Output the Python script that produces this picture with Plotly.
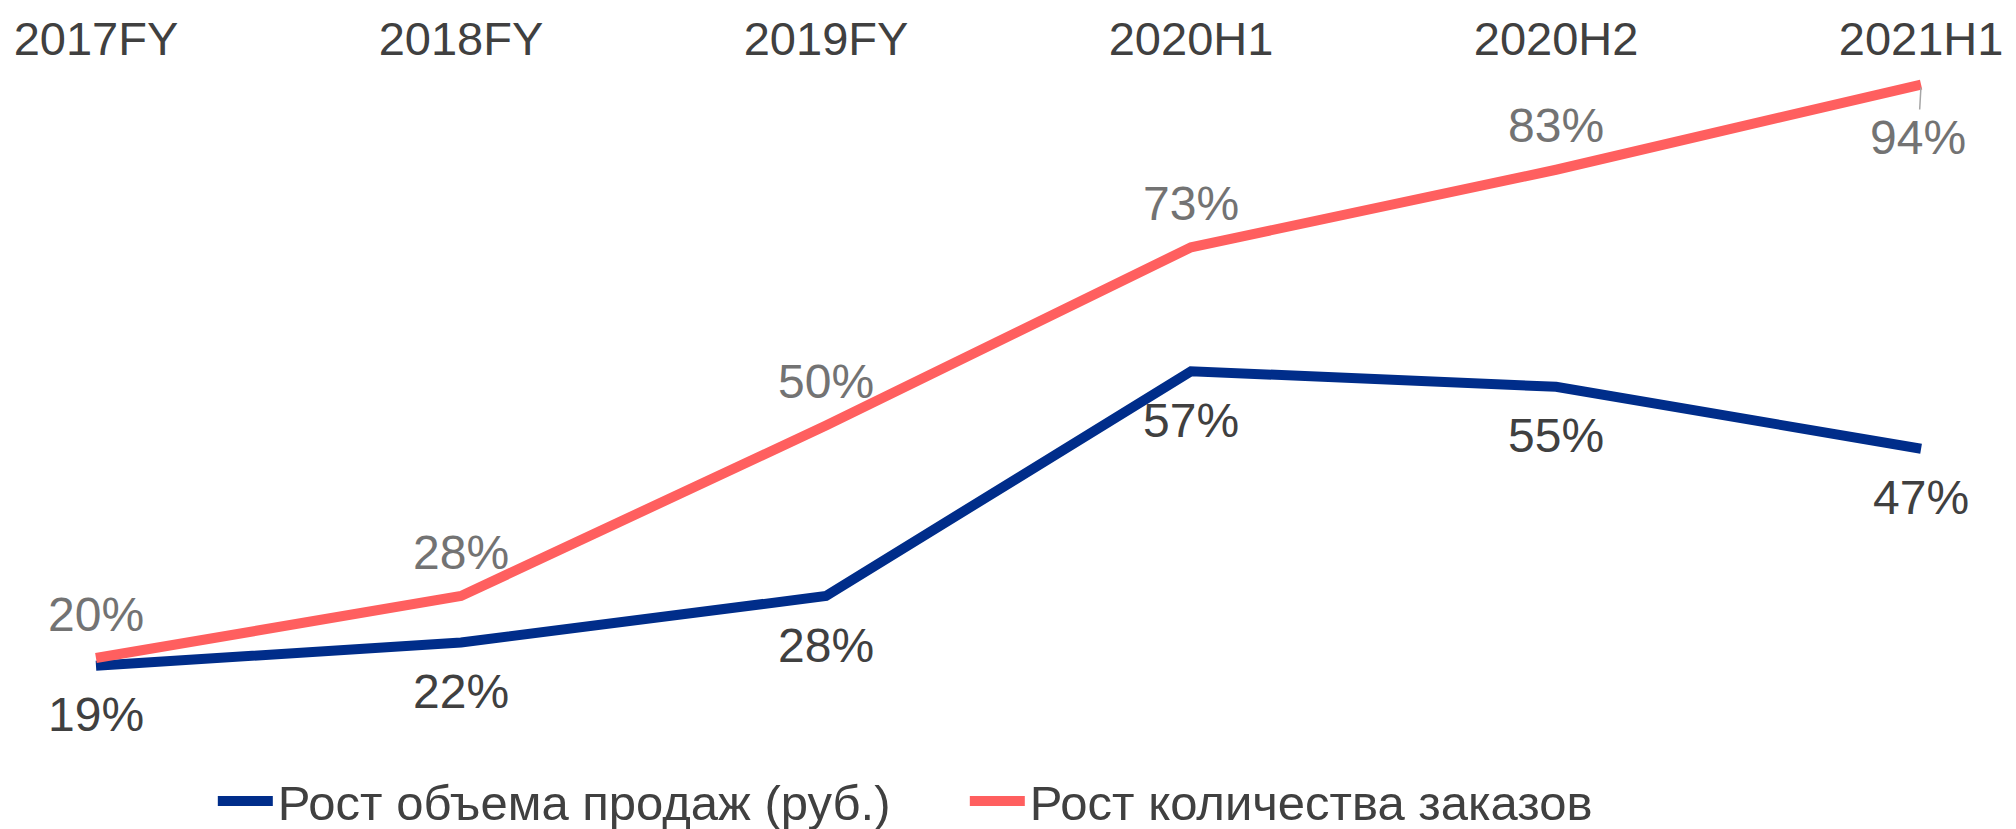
import plotly.graph_objects as go

periods = ['2017FY', '2018FY', '2019FY', '2020H1', '2020H2', '2021H1']
sales_growth = [19, 22, 28, 57, 55, 47]
orders_growth = [20, 28, 50, 73, 83, 94]

sales_name = 'Рост объема продаж (руб.)'
orders_name = 'Рост количества заказов'

BLUE = '#002D8A'
RED = '#FF5F5F'
FONT = 'Liberation Sans, Arial'

x = list(range(len(periods)))

fig = go.Figure()
fig.add_trace(go.Scatter(
    x=x, y=sales_growth, mode='lines', name=sales_name,
    line=dict(color=BLUE, width=10),
))
fig.add_trace(go.Scatter(
    x=x, y=orders_growth, mode='lines', name=orders_name,
    line=dict(color=RED, width=10),
))

# value labels: orders above the line, sales below
annotations = []
for i, v in enumerate(sales_growth):
    annotations.append(dict(
        x=i, y=v, text=f'{v}%', showarrow=False, yshift=-49,
        font=dict(family=FONT, size=48, color='#404040'),
    ))
for i, v in enumerate(orders_growth):
    if i == len(orders_growth) - 1:
        # last one sits under the point with a leader line
        annotations.append(dict(
            x=i, y=v, text=f'{v}%', showarrow=True, arrowhead=0,
            arrowwidth=1.5, arrowcolor='#A6A6A6', ax=-3, ay=53, standoff=3,
            font=dict(family=FONT, size=48, color='#737373'),
        ))
    else:
        annotations.append(dict(
            x=i, y=v, text=f'{v}%', showarrow=False, yshift=44,
            font=dict(family=FONT, size=48, color='#737373'),
        ))

# page body has an 8px margin, so the figure is a bit smaller than the window
fig.update_layout(
    width=2008, height=821,
    margin=dict(l=0, r=0, t=60, b=80, autoexpand=False),
    plot_bgcolor='white', paper_bgcolor='white',
    annotations=annotations,
    showlegend=True,
    legend=dict(
        orientation='h', x=0.102, xanchor='left', y=-0.0764, yanchor='middle',
        font=dict(family=FONT, size=49, color='#404040'),
        itemwidth=55, entrywidth=682, traceorder='normal',
    ),
)
fig.update_xaxes(
    side='top', tickmode='array', tickvals=x, ticktext=periods,
    range=[-0.241, 5.26], showgrid=False, zeroline=False, showline=False,
    ticks='', automargin=False, ticklabelstandoff=3,
    tickfont=dict(family=FONT, size=47, color='#404040'),
)
fig.update_yaxes(
    range=[8.26, 96.13], showgrid=False, zeroline=False, showline=False,
    showticklabels=False, ticks='', automargin=False,
)

fig.write_html("out.html")
